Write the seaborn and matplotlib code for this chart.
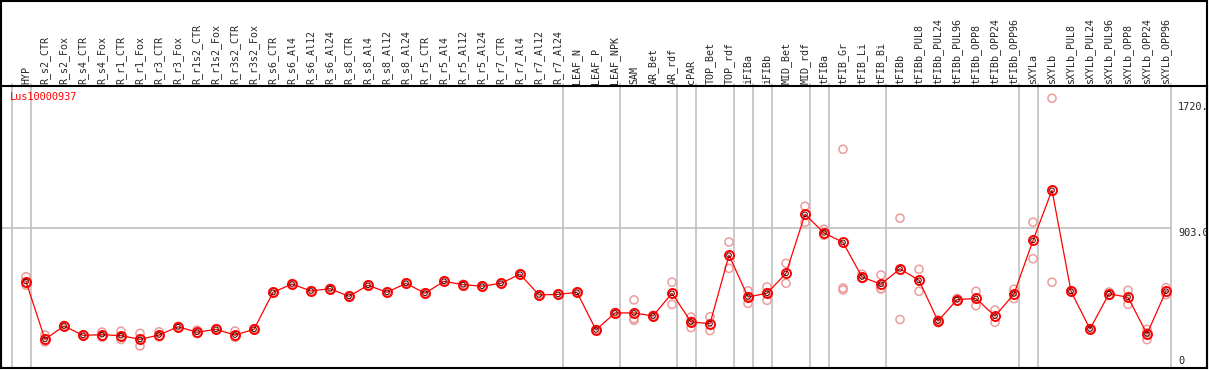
import numpy as np
import pandas as pd
import matplotlib
matplotlib.use('Agg')
import matplotlib.pyplot as plt
import seaborn as sns

sns.set_style('white')
plt.rcParams['font.family'] = ['DejaVu Sans Mono', 'DejaVu Sans']

gene = 'Lus10000937'

samples = [
    'HYP', 'R_s2_CTR', 'R_s2_Fox', 'R_s4_CTR', 'R_s4_Fox', 'R_r1_CTR', 'R_r1_Fox',
    'R_r3_CTR', 'R_r3_Fox', 'R_r1s2_CTR', 'R_r1s2_Fox', 'R_r3s2_CTR', 'R_r3s2_Fox',
    'R_s6_CTR', 'R_s6_Al4', 'R_s6_Al12', 'R_s6_Al24', 'R_s8_CTR', 'R_s8_Al4',
    'R_s8_Al12', 'R_s8_Al24', 'R_r5_CTR', 'R_r5_Al4', 'R_r5_Al12', 'R_r5_Al24',
    'R_r7_CTR', 'R_r7_Al4', 'R_r7_Al12', 'R_r7_Al24', 'LEAF_N', 'LEAF_P', 'LEAF_NPK',
    'SAM', 'AR_Bet', 'AR_rdf', 'cPAR', 'TOP_Bet', 'TOP_rdf', 'iFIBa', 'iFIBb',
    'MID_Bet', 'MID_rdf', 'tFIBa', 'tFIB_Gr', 'tFIB_Li', 'tFIB_Bi', 'tFIBb',
    'tFIBb_PUL8', 'tFIBb_PUL24', 'tFIBb_PUL96', 'tFIBb_OPP8', 'tFIBb_OPP24',
    'tFIBb_OPP96', 'sXYLa', 'sXYLb', 'sXYLb_PUL8', 'sXYLb_PUL24', 'sXYLb_PUL96',
    'sXYLb_OPP8', 'sXYLb_OPP24', 'sXYLb_OPP96',
]

# replicate expression values per sample
replicates = [
    [585, 545, 530], [205, 160, 165], [268, 260], [206, 200], [224, 190],
    [230, 176, 197], [216, 134, 181], [226, 194, 195], [262, 256], [237, 214, 218],
    [245, 239], [231, 190, 194], [245, 239], [486, 480], [540, 534],
    [495, 489], [510, 504], [460, 454], [532, 526], [486, 480],
    [545, 539], [480, 474], [558, 552], [536, 530], [526, 520],
    [545, 539], [604, 598], [469, 463], [473, 467], [486, 480],
    [241, 235], [352, 346], [434, 312, 301], [334, 324], [549, 405],
    [322, 253, 295], [324, 234], [811, 639], [493, 411, 455], [518, 431, 482],
    [672, 542], [1044, 939], [894, 855, 861], [1415, 511, 499], [601, 575, 573],
    [596, 505, 507], [966, 306], [633, 490], [300, 285, 303], [444, 428],
    [490, 396], [368, 288], [503, 442], [940, 702], [1747, 549],
    [494, 486], [248, 240], [485, 463], [496, 405], [242, 175, 219],
    [513, 468],
]

# index of the last sample in each group (grey separators)
group_ends = [-1, 0, 28, 31, 34, 35, 37, 38, 39, 41, 42, 45, 52, 53, 60]

axis_labels = ['1720.', '903.0', '0']
axis_values = [1720, 903, 0]

rows = []
for i, vals in enumerate(replicates):
    for v in vals:
        rows.append({'pos': i, 'value': v})
df = pd.DataFrame(rows)
means = df.groupby('pos', as_index=False)['value'].mean()

W, H = 1209, 370
fig = plt.figure(figsize=(W / 100, H / 100), dpi=100)
ax = fig.add_axes([1 / W, 2 / H, 1206 / W, 282 / H])

xmin, xmax = (1 - 26) / 19, (1207 - 26) / 19
ax.set_xlim(xmin, xmax)
ax.set_ylim(-9.8, 1827)

# separators and reference line
for g in group_ends:
    ax.axvline(g + 0.26, ymin=0, ymax=284 / 282, color='#c0c0c0', lw=1.2,
               clip_on=False, zorder=0)
ax.plot([xmin, 60.26], [903, 903], color='#c0c0c0', lw=1.2, zorder=0)

sns.scatterplot(data=df, x='pos', y='value', ax=ax, marker='o', s=34,
                facecolor='none', edgecolor='#ec9c9c', linewidth=1.1, zorder=2,
                legend=False)
sns.lineplot(data=df, x='pos', y='value', ax=ax, estimator='mean', errorbar=None,
             color='#ff0000', lw=0.9, marker='o', markersize=6.5,
             markerfacecolor='none', markeredgecolor='#ff0000',
             markeredgewidth=1.4, zorder=3)
sns.scatterplot(data=means, x='pos', y='value', ax=ax, marker='o', s=11,
                facecolor='none', edgecolor='#400000', linewidth=0.7, zorder=4,
                legend=False)

ax.set_xticks(range(len(samples)))
ax.set_xticklabels(samples, rotation=90, fontsize=7.2)
ax.xaxis.tick_top()
ax.tick_params(axis='x', length=0, pad=1.2)
ax.set_yticks([])
ax.set_xlabel('')
ax.set_ylabel('')
for s in ax.spines.values():
    s.set_color('black')
    s.set_linewidth(1.5)

ax.text(0.007, 0.961, gene, transform=ax.transAxes, color='#ff0000',
        fontsize=7.4, va='center', ha='left')
for lab, val in zip(axis_labels, axis_values):
    ax.text((1178 - 26) / 19, val, lab, fontsize=7.4, ha='left',
            va='bottom' if val == 0 else 'top', clip_on=True)

# outer frame of the header band
fig.add_artist(plt.Line2D([1 / W, 1 / W], [2 / H, 1], color='black', lw=1.5))
fig.add_artist(plt.Line2D([1207 / W, 1207 / W], [2 / H, 1], color='black', lw=1.5))
fig.add_artist(plt.Line2D([1 / W, 1207 / W], [1 - 0.5 / H, 1 - 0.5 / H],
                          color='black', lw=1.5))

fig.savefig('out.png', dpi=100, facecolor='white')
